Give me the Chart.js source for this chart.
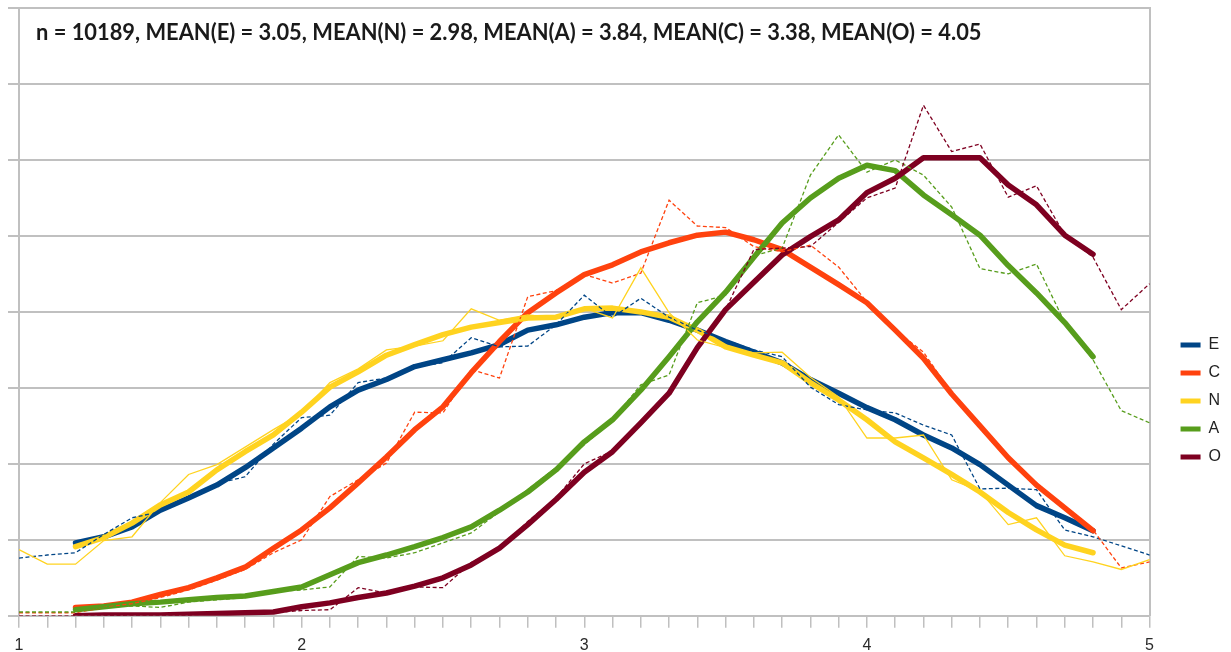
<!DOCTYPE html>
<html>
<head>
<meta charset="utf-8">
<script src="https://cdn.jsdelivr.net/npm/chart.js@4.4.1/dist/chart.umd.min.js"></script>
<style>
html, body { margin: 0; padding: 0; background: #ffffff; }
canvas { display: block; }
</style>
</head>
<body>
<canvas id="c" width="1231" height="652"></canvas>
<script>
// ---------- data ----------
const titleText = 'n = 10189, MEAN(E) = 3.05, MEAN(N) = 2.98, MEAN(A) = 3.84, MEAN(C) = 3.38, MEAN(O) = 4.05';

const xLabels = ['1.0','1.1','1.2','1.3','1.4','1.5','1.6','1.7','1.8','1.9',
                 '2.0','2.1','2.2','2.3','2.4','2.5','2.6','2.7','2.8','2.9',
                 '3.0','3.1','3.2','3.3','3.4','3.5','3.6','3.7','3.8','3.9',
                 '4.0','4.1','4.2','4.3','4.4','4.5','4.6','4.7','4.8','4.9','5.0'];

const seriesNames = ['E', 'C', 'N', 'A', 'O'];
const seriesColors = ['#004586', '#ff420e', '#ffd320', '#579d1c', '#7e0021'];

// raw distributions (thin lines)
const rawE = [0.76,0.80,0.83,1.07,1.29,1.37,1.57,1.74,1.83,2.26,
              2.61,2.64,3.07,3.13,3.28,3.33,3.66,3.54,3.55,3.83,
              4.22,3.93,4.18,3.93,3.76,3.63,3.50,3.41,3.01,2.78,
              2.71,2.67,2.51,2.38,1.67,1.68,1.66,1.13,1.04,0.92,0.80];
const rawC = [0.04,0.04,0.04,0.11,0.16,0.24,0.34,0.47,0.61,0.83,
              1.00,1.57,1.79,2.01,2.68,2.67,3.24,3.13,4.20,4.28,
              4.49,4.38,4.51,5.47,5.13,5.11,4.86,4.79,4.88,4.59,
              4.13,3.76,3.47,2.93,2.47,2.05,1.75,1.43,1.13,0.63,0.71];
const rawN = [0.87,0.68,0.68,0.99,1.04,1.49,1.86,1.99,2.22,2.45,
              2.67,3.07,3.25,3.50,3.55,3.62,4.04,3.89,3.96,3.92,
              4.05,3.92,4.58,3.99,3.63,3.53,3.46,3.47,3.14,2.88,
              2.34,2.34,2.38,1.79,1.64,1.20,1.29,0.79,0.71,0.61,0.74];
const rawA = [0.05,0.05,0.05,0.11,0.13,0.11,0.18,0.21,0.24,0.32,
              0.34,0.38,0.78,0.76,0.83,0.96,1.09,1.37,1.66,1.95,
              2.25,2.58,3.04,3.17,4.12,4.22,4.74,4.84,5.80,6.33,
              5.84,6.00,5.80,5.38,4.57,4.50,4.63,3.86,3.37,2.70,2.54];
const rawO = [0.00,0.00,0.00,0.00,0.01,0.01,0.01,0.03,0.03,0.04,
              0.07,0.08,0.37,0.30,0.38,0.37,0.70,0.89,1.24,1.55,
              2.00,2.17,2.54,2.91,3.50,4.03,4.82,4.84,4.86,5.18,
              5.50,5.63,6.72,6.11,6.21,5.51,5.66,5.01,4.72,4.03,4.37];

// smoothed distributions (thick lines), defined from 1.2 to 4.8
const smoothE = [null,null,0.96,1.04,1.17,1.39,1.55,1.72,1.95,2.21,
                 2.47,2.75,2.97,3.11,3.28,3.37,3.46,3.57,3.76,3.83,
                 3.93,3.99,3.99,3.89,3.76,3.61,3.47,3.33,3.11,2.93,
                 2.74,2.58,2.38,2.21,1.99,1.72,1.45,1.29,1.12,null,null];
const smoothC = [null,null,0.11,0.13,0.18,0.28,0.37,0.50,0.64,0.89,
                 1.13,1.42,1.75,2.09,2.45,2.75,3.20,3.61,3.99,4.25,
                 4.49,4.62,4.79,4.91,5.01,5.05,4.95,4.82,4.59,4.36,
                 4.12,3.76,3.39,2.92,2.50,2.08,1.72,1.42,1.12,null,null];
const smoothN = [null,null,0.91,1.03,1.22,1.46,1.63,1.92,2.16,2.38,
                 2.68,3.01,3.21,3.43,3.57,3.70,3.80,3.86,3.92,3.93,
                 4.04,4.05,4.00,3.93,3.76,3.54,3.43,3.33,3.07,2.84,
                 2.58,2.29,2.08,1.86,1.63,1.36,1.13,0.93,0.83,null,null];
const smoothA = [null,null,0.08,0.12,0.16,0.18,0.21,0.24,0.26,0.32,
                 0.38,0.54,0.70,0.80,0.91,1.03,1.17,1.39,1.63,1.92,
                 2.29,2.58,2.97,3.41,3.87,4.26,4.72,5.17,5.50,5.76,
                 5.93,5.86,5.54,5.28,5.01,4.61,4.25,3.86,3.41,null,null];
const smoothO = [null,null,0.00,0.01,0.01,0.01,0.02,0.03,0.04,0.05,
                 0.12,0.17,0.24,0.30,0.39,0.50,0.67,0.89,1.20,1.53,
                 1.89,2.16,2.54,2.93,3.53,4.03,4.39,4.75,4.99,5.21,
                 5.57,5.76,6.03,6.03,6.03,5.67,5.41,5.01,4.76,null,null];

const yMin = 0, yMax = 8, yStep = 1;

// ---------- styles ----------
const rawSets = [rawE, rawC, rawN, rawA, rawO];
const smoothSets = [smoothE, smoothC, smoothN, smoothA, smoothO];
const rawDashed = [true, true, false, true, true];
const gridColor = '#c0c0c0';

const datasets = [];
seriesNames.forEach((name, i) => {
  datasets.push({
    label: name,
    data: smoothSets[i],
    borderColor: seriesColors[i],
    backgroundColor: seriesColors[i],
    borderWidth: 5.5,
    borderCapStyle: 'round',
    borderJoinStyle: 'round',
    pointRadius: 0,
    pointHoverRadius: 0,
    tension: 0,
    fill: false,
    order: 10 - i
  });
});
seriesNames.forEach((name, i) => {
  datasets.push({
    label: name + ' raw',
    data: rawSets[i],
    borderColor: seriesColors[i],
    backgroundColor: seriesColors[i],
    borderWidth: 1.3,
    borderDash: rawDashed[i] ? [4, 2.5] : [],
    pointRadius: 0,
    pointHoverRadius: 0,
    tension: 0,
    fill: false,
    order: 5 - i
  });
});

const insideTitle = {
  id: 'insideTitle',
  afterDraw(chart) {
    const ctx = chart.ctx;
    const area = chart.chartArea;
    ctx.save();
    let size = 18;
    ctx.font = 'bold ' + size + 'px Lato';
    const w = ctx.measureText(titleText).width;
    size = size * 946 / w;
    ctx.font = 'bold ' + size.toFixed(2) + 'px Lato';
    ctx.fillStyle = '#1a1a1a';
    ctx.textAlign = 'left';
    ctx.textBaseline = 'middle';
    ctx.fillText(titleText, area.left + 17, area.top + 25);
    ctx.restore();
  }
};

Chart.defaults.font.family = "'Liberation Sans', Arial, sans-serif";

new Chart(document.getElementById('c'), {
  type: 'line',
  data: { labels: xLabels, datasets: datasets },
  plugins: [insideTitle],
  options: {
    responsive: false,
    animation: false,
    devicePixelRatio: 1,
    layout: { padding: { left: 8, top: 8, right: 0, bottom: -11 } },
    plugins: {
      tooltip: { enabled: false },
      title: { display: false },
      legend: {
        display: true,
        position: 'right',
        align: 'start',
        title: { display: true, text: '', font: { size: 10 }, padding: { top: 0, bottom: 305 } },
        labels: {
          boxWidth: 20,
          boxHeight: 5,
          padding: 12,
          color: '#222222',
          font: { size: 16 },
          generateLabels: () => seriesNames.map((n, i) => ({
            text: n,
            fillStyle: seriesColors[i],
            strokeStyle: seriesColors[i],
            lineWidth: 0,
            hidden: false,
            datasetIndex: i,
            fontColor: '#222222'
          }))
        }
      }
    },
    scales: {
      x: {
        type: 'category',
        offset: false,
        grid: { drawOnChartArea: false, drawTicks: true, tickLength: 12, color: gridColor, lineWidth: 1.5 },
        border: { display: true, color: gridColor, width: 1.5 },
        ticks: {
          autoSkip: false,
          maxRotation: 0,
          minRotation: 0,
          padding: 8,
          color: '#2a2a2a',
          font: { size: 16 },
          callback: function (value, index) {
            const lab = xLabels[index];
            return lab.endsWith('.0') ? lab.slice(0, 1) : '';
          }
        }
      },
      y: {
        type: 'linear',
        position: 'left',
        min: yMin,
        max: yMax,
        grid: { color: gridColor, lineWidth: 2, drawTicks: true, tickLength: 11 },
        border: { display: true, color: gridColor, width: 2 },
        ticks: { display: false, stepSize: yStep }
      },
      y2: {
        type: 'linear',
        position: 'right',
        min: yMin,
        max: yMax,
        grid: { drawOnChartArea: false, drawTicks: true, tickLength: 19, color: 'rgba(0,0,0,0)' },
        border: { display: true, color: gridColor, width: 2 },
        ticks: { display: false, stepSize: yStep }
      }
    }
  }
});
</script>
</body>
</html>
